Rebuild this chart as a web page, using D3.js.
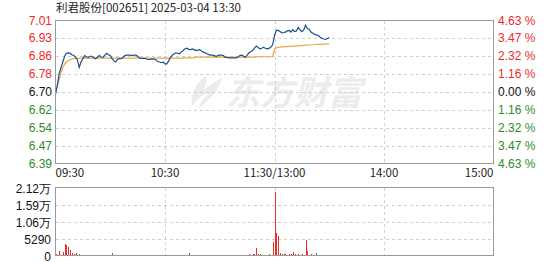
<!DOCTYPE html>
<html>
<head>
<meta charset="utf-8">
<script src="https://cdn.jsdelivr.net/npm/d3@7"></script>
<style>
  body { margin: 0; background: #fff; }
  svg { display: block; }
  .grid line { stroke: #cfcfcf; stroke-dasharray: 3,3; shape-rendering: crispEdges; }
  .frame { fill: none; stroke: #9a9a9a; shape-rendering: crispEdges; }
  .lbl { font-family: "Liberation Sans", Arial, sans-serif; font-size: 12px; }
  .cjk { font-family: "Noto Sans CJK SC", sans-serif; font-size: 11.5px; fill: #222; }
</style>
</head>
<body>
<svg id="chart" width="549" height="262"></svg>
<script>
var title = "利君股份[002651] 2025-03-04 13:30";
var prevClose = 6.70;

var priceTickLabels = ["7.01", "6.93", "6.86", "6.78", "6.70", "6.62", "6.54", "6.47", "6.39"];
var pctTickValues = [4.63, 3.47, 2.32, 1.16, 0, -1.16, -2.32, -3.47, -4.63];
var pctTickLabels = ["4.63", "3.47", "2.32", "1.16", "0.00", "1.16", "2.32", "3.47", "4.63"];
var timeLabels = ["09:30", "10:30", "11:30/13:00", "14:00", "15:00"];
var timeIdx = [0, 60, 120, 180, 240];
var volTickLabels = ["2.12万", "1.59万", "1.06万", "5290", "0"];
var volTickValues = [21160, 15870, 10580, 5290, 0];

// one value per minute, 09:30 .. 11:30 then 13:01 .. 13:30
var price = [
  6.69, 6.73, 6.78, 6.805, 6.83, 6.855, 6.868, 6.87, 6.868, 6.862,
  6.858, 6.85, 6.84, 6.807, 6.83, 6.845, 6.858, 6.852, 6.85, 6.855,
  6.855, 6.848, 6.844, 6.852, 6.858, 6.852, 6.85, 6.86, 6.868, 6.862,
  6.858, 6.845, 6.835, 6.83, 6.842, 6.846, 6.845, 6.85, 6.858, 6.86,
  6.86, 6.86, 6.858, 6.86, 6.86, 6.855, 6.848, 6.846, 6.846, 6.846,
  6.843, 6.84, 6.842, 6.844, 6.842, 6.84, 6.832, 6.83, 6.827, 6.83,
  6.822, 6.822, 6.835, 6.85, 6.86, 6.866, 6.87, 6.868, 6.866, 6.874,
  6.88, 6.888, 6.89, 6.885, 6.884, 6.887, 6.884, 6.88, 6.882, 6.884,
  6.878, 6.873, 6.87, 6.866, 6.862, 6.86, 6.86, 6.858, 6.855, 6.858,
  6.86, 6.86, 6.858, 6.85, 6.85, 6.848, 6.848, 6.848, 6.848, 6.848,
  6.852, 6.858, 6.86, 6.856, 6.85, 6.86, 6.87, 6.875, 6.88, 6.89,
  6.899, 6.893, 6.887, 6.89, 6.894, 6.89, 6.887, 6.889, 6.895, 6.905,
  6.945, 6.967, 6.967, 6.962, 6.957, 6.958, 6.96, 6.965, 6.967, 6.96,
  6.97, 6.962, 6.965, 6.98, 6.97, 6.962, 6.968, 6.99, 6.975, 6.972,
  6.96, 6.955, 6.95, 6.948, 6.945, 6.938, 6.933, 6.93, 6.928, 6.932,
  6.936
];

var avgPrice = [
  6.70, 6.725, 6.755, 6.785, 6.805, 6.82, 6.83, 6.836, 6.84, 6.843,
  6.845, 6.846, 6.846, 6.847, 6.847, 6.847, 6.847, 6.847, 6.847, 6.847,
  6.847, 6.847, 6.847, 6.847, 6.847, 6.847, 6.847, 6.847, 6.847, 6.847,
  6.847, 6.847, 6.847, 6.847, 6.847, 6.847, 6.847, 6.847, 6.847, 6.847,
  6.847, 6.847, 6.847, 6.847, 6.847, 6.847, 6.847, 6.847, 6.847, 6.847,
  6.847, 6.847, 6.847, 6.847, 6.847, 6.847, 6.847, 6.847, 6.847, 6.847,
  6.847, 6.847, 6.847, 6.847, 6.847, 6.847, 6.847, 6.847, 6.847, 6.847,
  6.848, 6.848, 6.848, 6.848, 6.848, 6.848, 6.849, 6.851, 6.851, 6.851,
  6.851, 6.851, 6.851, 6.851, 6.851, 6.851, 6.851, 6.851, 6.851, 6.851,
  6.851, 6.851, 6.851, 6.851, 6.851, 6.851, 6.851, 6.851, 6.851, 6.851,
  6.851, 6.851, 6.851, 6.851, 6.851, 6.851, 6.851, 6.851, 6.851, 6.851,
  6.852, 6.853, 6.853, 6.853, 6.853, 6.853, 6.853, 6.853, 6.853, 6.854,
  6.885, 6.892, 6.894, 6.895, 6.896, 6.896, 6.897, 6.897, 6.898, 6.898,
  6.899, 6.899, 6.9, 6.9, 6.901, 6.901, 6.902, 6.903, 6.904, 6.904,
  6.905, 6.905, 6.906, 6.906, 6.907, 6.907, 6.908, 6.908, 6.908, 6.909,
  6.909
];

var volume = [
  600, 300, 1300, 300, 1200, 3500, 3300, 2600, 1600, 900,
  400, 900, 300, 400, 300, 250, 300, 200, 300, 250,
  300, 200, 250, 300, 200, 300, 250, 200, 300, 250,
  200, 900, 300, 250, 200, 300, 200, 250, 300, 200,
  250, 200, 300, 200, 250, 200, 300, 250, 200, 300,
  200, 250, 200, 300, 200, 250, 200, 200, 300, 250,
  300, 200, 250, 300, 200, 250, 300, 200, 250, 200,
  300, 250, 200, 900, 250, 200, 300, 200, 250, 200,
  250, 200, 300, 200, 200, 250, 200, 300, 200, 250,
  200, 250, 300, 200, 200, 250, 200, 300, 250, 200,
  300, 250, 200, 300, 250, 200, 400, 300, 500, 600,
  2200, 400, 500, 300, 250, 300, 200, 500, 300, 4100,
  19700, 7100, 6200, 700, 500, 600, 400, 300, 500, 400,
  1200, 400, 300, 500, 300, 400, 300, 4700, 1300, 300,
  400, 300, 300, 900, 300, 250, 300, 200, 300, 250,
  300
];
// minutes whose volume bar is drawn green (down ticks)
var downIdx = [11, 31, 112, 124, 143];

var red = "#ee2a2a";
var green = "#2e8b2e";

var svg = d3.select("#chart");

var left = 55.5, right = 493.5;
var main = {top: 20.5, bottom: 163.5};
var vol = {top: 187.5, bottom: 255.5};

var x = d3.scaleLinear().domain([0, 240]).range([left, right]);
var y = d3.scaleLinear()
    .domain([prevClose * (1 - 0.0463), prevClose * (1 + 0.0463)])
    .range([main.bottom, main.top]);
var yv = d3.scaleLinear().domain([0, 21160]).range([vol.bottom, vol.top]);

// title
svg.append("text")
    .attr("class", "cjk")
    .attr("x", 56)
    .attr("y", 12)
    .text(title);

// watermark
var wm = svg.append("g").attr("fill", "#ececec");
wm.append("path")
    .attr("d", "M205,76 C196,84 190,94 192,106 C196,100 202,95 210,92 C204,98 200,102 199,108 C210,100 219,90 222,78 C214,82 208,86 204,90 C206,85 208,80 205,76 Z");
wm.append("text")
    .attr("x", 226)
    .attr("y", 105)
    .attr("font-family", "Noto Sans CJK SC")
    .attr("font-weight", "bold")
    .attr("font-size", 34)
    .attr("font-style", "italic")
    .text("东方财富");

// main panel grid
var gMain = svg.append("g").attr("class", "grid");
gMain.selectAll("line.h")
    .data(pctTickValues.slice(1, -1))
    .enter().append("line")
    .attr("x1", left).attr("x2", right)
    .attr("y1", d => Math.round(y(prevClose * (1 + d / 100))) + 0.5)
    .attr("y2", d => Math.round(y(prevClose * (1 + d / 100))) + 0.5);
gMain.selectAll("line.v")
    .data(timeIdx.slice(1, -1))
    .enter().append("line")
    .attr("y1", main.top).attr("y2", main.bottom)
    .attr("x1", d => Math.round(x(d)) + 0.5)
    .attr("x2", d => Math.round(x(d)) + 0.5);

// volume panel grid
var gVol = svg.append("g").attr("class", "grid");
gVol.selectAll("line.h")
    .data(volTickValues.slice(1, -1))
    .enter().append("line")
    .attr("x1", left).attr("x2", right)
    .attr("y1", d => Math.round(yv(d)) + 0.5)
    .attr("y2", d => Math.round(yv(d)) + 0.5);
gVol.selectAll("line.v")
    .data(timeIdx.slice(1, -1))
    .enter().append("line")
    .attr("y1", vol.top).attr("y2", vol.bottom)
    .attr("x1", d => Math.round(x(d)) + 0.5)
    .attr("x2", d => Math.round(x(d)) + 0.5);

// left price labels
function tickColor(i) {
    if (pctTickValues[i] > 0) { return red; }
    if (pctTickValues[i] < 0) { return green; }
    return "#111";
}
svg.selectAll("text.pl")
    .data(priceTickLabels)
    .enter().append("text")
    .attr("class", "lbl")
    .attr("x", 52)
    .attr("y", (d, i) => y(prevClose * (1 + pctTickValues[i] / 100)) + 4)
    .attr("text-anchor", "end")
    .attr("fill", (d, i) => tickColor(i))
    .text(d => d);

// right percent labels
svg.selectAll("text.pr")
    .data(pctTickLabels)
    .enter().append("text")
    .attr("class", "lbl")
    .attr("x", 498)
    .attr("y", (d, i) => y(prevClose * (1 + pctTickValues[i] / 100)) + 4)
    .attr("fill", (d, i) => tickColor(i))
    .text(d => d + " %");

// time labels
svg.selectAll("text.t")
    .data(timeLabels)
    .enter().append("text")
    .attr("class", "cjk")
    .attr("x", (d, i) => x(timeIdx[i]))
    .attr("y", 177)
    .attr("text-anchor", (d, i) => i == 0 ? "start" : (i == timeLabels.length - 1 ? "end" : "middle"))
    .text(d => d);

// volume labels
svg.selectAll("text.v")
    .data(volTickLabels)
    .enter().append("text")
    .attr("class", "lbl")
    .attr("x", 51)
    .attr("y", (d, i) => yv(volTickValues[i]) + 5)
    .attr("text-anchor", "end")
    .attr("fill", "#111")
    .text(d => d);

// volume bars
svg.append("g")
    .selectAll("rect")
    .data(volume)
    .enter().append("rect")
    .attr("x", (d, i) => Math.round(x(i)))
    .attr("width", 1)
    .attr("y", d => yv(d))
    .attr("height", d => vol.bottom - yv(d))
    .attr("fill", (d, i) => downIdx.indexOf(i) >= 0 ? green : red)
    .attr("shape-rendering", "crispEdges");

// average price line
svg.append("path")
    .datum(avgPrice)
    .attr("fill", "none")
    .attr("stroke", "#e2a93c")
    .attr("stroke-width", 1.2)
    .attr("d", d3.line().x((d, i) => x(i)).y(d => y(d)));

// price line
svg.append("path")
    .datum(price)
    .attr("fill", "none")
    .attr("stroke", "#1f4f8e")
    .attr("stroke-width", 1.2)
    .attr("d", d3.line().x((d, i) => x(i)).y(d => y(d)));

// frames
svg.append("rect").attr("class", "frame")
    .attr("x", left).attr("y", main.top)
    .attr("width", right - left).attr("height", main.bottom - main.top);
svg.append("rect").attr("class", "frame")
    .attr("x", left).attr("y", vol.top)
    .attr("width", right - left).attr("height", vol.bottom - vol.top);
</script>
</body>
</html>
